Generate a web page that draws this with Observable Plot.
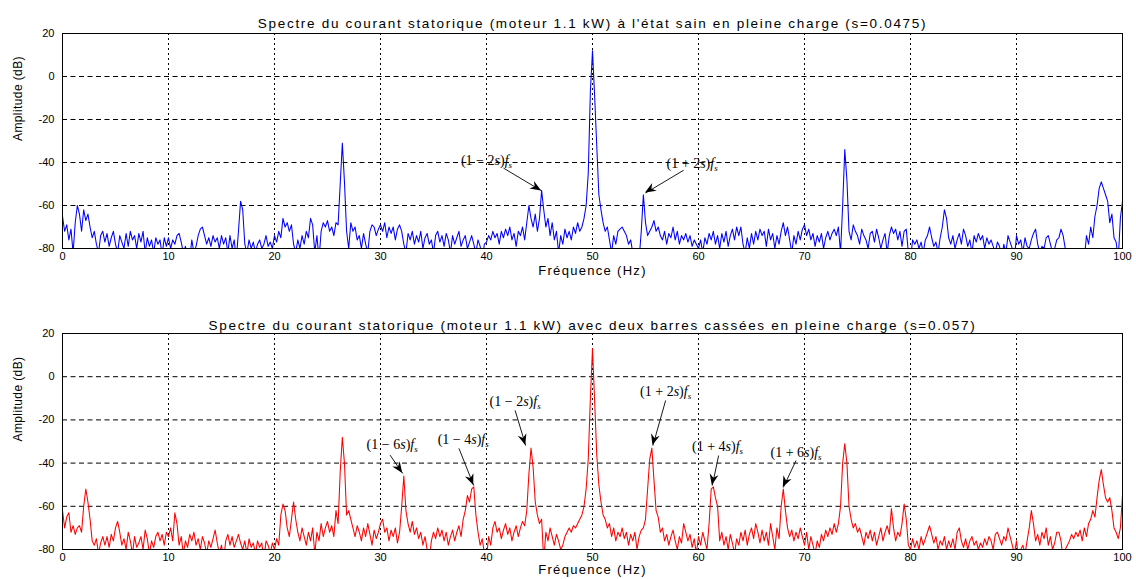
<!DOCTYPE html>
<html>
<head>
<meta charset="utf-8">
<script src="https://cdn.jsdelivr.net/npm/d3@7"></script>
<script src="https://cdn.jsdelivr.net/npm/@observablehq/plot@0.6"></script>
<style>
  html, body { margin: 0; padding: 0; background: #fff; }
  #chart { width: 1136px; height: 579px; overflow: hidden; }
  #chart svg { display: block; }
</style>
</head>
<body>
<div id="chart"></div>
<script>
// ---------- data ----------
const freqStep = 0.2; // Hz between spectrum samples (0 .. 100 Hz)
const xTicks = [0, 10, 20, 30, 40, 50, 60, 70, 80, 90, 100];
const yTicks = [-80, -60, -40, -20, 0, 20];

const titleHealthy = "Spectre du courant statorique (moteur 1.1 kW) à l'état sain en pleine charge (s=0.0475)";
const titleBroken = "Spectre du courant statorique (moteur 1.1 kW) avec deux barres cassées en pleine charge (s=0.057)";
const xLabel = "Fréquence (Hz)";
const yLabel = "Amplitude (dB)";

// Healthy motor spectrum (dB), one row per 10 Hz
const healthy = [
  -65,-72,-69,-76,-71,-82,-68,-60,-64,-72, -62,-67,-64,-70,-75,-72,-78,-82,-74,-72, -77,-73,-79,-75,-72,-78,-82,-74,-77,-80, -73,-79,-72,-76,-74,-80,-73,-77,-72,-82, -75,-79,-76,-82,-75,-78,-76,-83,-75,-79,
  -75,-80,-76,-78,-74,-73,-77,-82,-79,-85, -85,-76,-82,-79,-74,-71,-70,-74,-78,-75, -79,-74,-77,-75,-80,-74,-78,-75,-82,-74, -80,-76,-85,-72,-58,-62,-78,-82,-76,-80, -77,-82,-78,-76,-80,-78,-74,-79,-77,-80,
  -74,-77,-72,-75,-66,-70,-68,-72,-69,-78, -82,-76,-80,-74,-78,-72,-75,-66,-69,-82, -74,-85,-72,-68,-70,-67,-72,-70,-74,-68, -69,-50,-31,-49,-72,-80,-68,-72,-70,-76, -74,-80,-73,-78,-82,-72,-69,-70,-74,-71,
  -69,-72,-68,-75,-70,-73,-70,-76,-71,-69, -72,-78,-82,-73,-76,-72,-78,-74,-77,-72, -80,-75,-73,-78,-76,-82,-74,-72,-77,-74, -79,-73,-76,-82,-74,-78,-75,-72,-79,-76, -74,-80,-77,-74,-78,-82,-76,-79,-85,-78,
  -77,-74,-76,-72,-75,-73,-78,-72,-75,-71, -74,-70,-76,-73,-79,-72,-74,-70,-76,-68, -60,-66,-70,-64,-72,-66,-53,-62,-70,-66, -74,-68,-76,-72,-82,-74,-78,-71,-75,-72, -76,-70,-73,-68,-72,-70,-66,-60,-45,-7,
  12,-9,-32,-55,-62,-68,-72,-70,-76,-82, -74,-78,-72,-71,-70,-72,-74,-78,-76,-82, -85,-80,-85,-72,-55,-68,-74,-72,-70,-67, -72,-70,-74,-76,-72,-78,-73,-75,-70,-76, -72,-78,-74,-76,-73,-77,-74,-79,-76,-78,
  -80,-76,-82,-75,-78,-73,-76,-72,-78,-74, -80,-73,-77,-72,-79,-74,-71,-76,-70,-74, -70,-78,-82,-75,-80,-73,-78,-72,-76,-71, -74,-72,-79,-71,-76,-73,-80,-74,-78,-72, -68,-74,-70,-76,-82,-74,-78,-72,-76,-71,
  -69,-74,-71,-76,-73,-79,-74,-77,-73,-80, -75,-72,-76,-73,-71,-74,-70,-82,-60,-34, -48,-72,-76,-69,-72,-74,-78,-71,-74,-76, -80,-73,-72,-77,-71,-75,-80,-76,-73,-82, -74,-70,-73,-71,-76,-72,-79,-72,-71,-82,
  -85,-76,-78,-76,-80,-77,-82,-76,-74,-70, -75,-79,-77,-82,-75,-70,-62,-66,-75,-78, -74,-80,-76,-73,-78,-71,-74,-79,-76,-82, -74,-77,-73,-76,-74,-80,-75,-78,-76,-79, -82,-77,-79,-85,-78,-82,-74,-77,-80,-85,
  -74,-78,-76,-82,-75,-79,-80,-76,-73,-71, -78,-82,-79,-80,-75,-74,-78,-82,-80,-76, -75,-71,-74,-80,-85,-82,-85,-84,-85,-86, -85,-86,-85,-74,-78,-70,-75,-65,-60,-52, -49,-52,-55,-58,-68,-64,-75,-77,-85,-66,
  -58
];

// Two broken bars spectrum (dB), one row per 10 Hz
const broken = [
  -62,-70,-65,-63,-72,-69,-73,-70,-69,-72, -60,-52,-58,-66,-76,-78,-75,-82,-77,-74, -78,-74,-79,-73,-76,-70,-67,-72,-78,-75, -80,-72,-76,-82,-74,-79,-77,-74,-80,-71, -75,-82,-76,-79,-74,-72,-76,-73,-78,-72,
  -74,-70,-76,-63,-68,-78,-74,-82,-76,-79, -73,-76,-72,-78,-75,-80,-74,-77,-82,-76, -79,-75,-71,-77,-82,-78,-85,-76,-73,-78, -74,-79,-76,-73,-77,-80,-76,-82,-75,-79, -77,-82,-76,-79,-77,-85,-76,-78,-82,-77,
  -80,-75,-78,-64,-59,-62,-70,-74,-66,-58, -66,-72,-76,-70,-74,-78,-72,-76,-70,-82, -72,-76,-68,-74,-70,-67,-72,-69,-74,-62, -68,-44,-28,-40,-64,-62,-66,-70,-74,-69, -72,-76,-70,-74,-68,-73,-78,-71,-75,-72,
  -68,-66,-72,-70,-76,-71,-74,-70,-77,-72, -60,-46,-62,-68,-72,-67,-73,-70,-75,-72, -78,-74,-80,-85,-76,-72,-75,-70,-74,-71, -76,-72,-78,-74,-71,-76,-72,-69,-74,-66, -62,-55,-58,-52,-51,-64,-72,-78,-75,-82,
  -84,-74,-78,-70,-67,-72,-70,-75,-71,-68, -73,-70,-76,-72,-69,-74,-70,-67,-69,-62, -45,-33,-42,-58,-64,-68,-66,-85,-72,-76, -70,-74,-78,-73,-76,-80,-78,-74,-72,-70, -72,-69,-70,-68,-66,-64,-60,-52,-38,-10,
  13,-11,-36,-50,-58,-64,-66,-70,-68,-74, -70,-76,-72,-74,-70,-75,-72,-78,-73,-76, -72,-80,-74,-71,-70,-66,-52,-38,-33,-48, -62,-65,-72,-70,-76,-73,-78,-74,-71,-76, -80,-74,-77,-68,-72,-76,-73,-79,-75,-82,
  -74,-78,-72,-76,-80,-68,-52,-51,-56,-60, -76,-72,-78,-74,-80,-73,-77,-82,-75,-78, -72,-76,-71,-78,-73,-70,-75,-68,-72,-77, -71,-76,-72,-78,-68,-74,-80,-70,-75,-60, -52,-62,-70,-74,-71,-76,-72,-75,-70,-74,
  -78,-72,-80,-74,-78,-82,-76,-79,-73,-76, -71,-74,-70,-73,-68,-72,-68,-60,-40,-31, -40,-60,-66,-70,-68,-72,-70,-74,-78,-72, -75,-71,-76,-72,-78,-74,-70,-76,-72,-69, -73,-61,-70,-76,-72,-74,-68,-59,-66,-78,
  -80,-75,-79,-76,-80,-74,-78,-75,-72,-69, -73,-77,-74,-80,-76,-78,-74,-80,-76,-79, -75,-80,-72,-70,-76,-79,-75,-80,-76,-74, -78,-76,-80,-77,-79,-75,-78,-74,-76,-80, -73,-72,-75,-78,-74,-76,-70,-74,-78,-82,
  -76,-85,-80,-78,-82,-76,-70,-62,-68,-76, -73,-78,-72,-75,-70,-78,-74,-80,-77,-72, -72,-76,-85,-80,-78,-76,-73,-75,-72,-74, -71,-76,-70,-74,-68,-66,-62,-65,-56,-48, -43,-50,-56,-58,-56,-62,-70,-72,-75,-70,
  -55
];

// Annotations: label, text anchor (tx, ty), arrow from (x1, y1) to tip (x2, y2), in data units
const notesHealthy = [
  {label: "(1−2s)f_s", tx: 40.0, ty: -39.1, x1: 41.6, y1: -42.6, x2: 45.2, y2: -53.2},
  {label: "(1+2s)f_s", tx: 59.4, ty: -40.5, x1: 58.6, y1: -43.6, x2: 55.0, y2: -54.2}
];
const notesBroken = [
  {label: "(1−6s)f_s", tx: 31.1, ty: -31.5, x1: 30.9, y1: -36.3, x2: 32.1, y2: -44.8},
  {label: "(1−4s)f_s", tx: 37.8, ty: -29.3, x1: 37.4, y1: -33.2, x2: 38.8, y2: -50.4},
  {label: "(1−2s)f_s", tx: 42.7, ty: -11.5, x1: 42.7, y1: -15.6, x2: 43.7, y2: -31.9},
  {label: "(1+2s)f_s", tx: 56.9, ty: -6.9, x1: 56.9, y1: -11.0, x2: 55.7, y2: -31.9},
  {label: "(1+4s)f_s", tx: 61.8, ty: -32.3, x1: 61.9, y1: -36.5, x2: 61.3, y2: -50.4},
  {label: "(1+6s)f_s", tx: 69.2, ty: -35.0, x1: 69.2, y1: -38.8, x2: 68.0, y2: -51.3}
];

// ---------- drawing ----------
const sans = "'Liberation Sans', Arial, Helvetica, sans-serif";
const serif = "'Liberation Serif', 'Times New Roman', 'DejaVu Serif', serif";

function panel({values, color, title, notes, height, marginTop, marginBottom, titleDy, xLabelDy}) {
  const data = values.map((v, i) => ({f: i * freqStep, a: v}));
  const chart = Plot.plot({
    width: 1136,
    height,
    marginLeft: 62,
    marginRight: 14,
    marginTop,
    marginBottom,
    style: {fontFamily: sans, fontSize: "11px", color: "#000", background: "#fff", overflow: "visible"},
    x: {domain: [0, 100], label: null},
    y: {domain: [-80, 20], label: null},
    marks: [
      Plot.gridX(xTicks, {stroke: "#000", strokeOpacity: 1, strokeDasharray: "2,3"}),
      Plot.gridY(yTicks, {stroke: "#000", strokeOpacity: 1, strokeDasharray: "5,3.5"}),
      Plot.line(data, {x: "f", y: "a", stroke: color, strokeWidth: 1.05, clip: true}),
      Plot.frame({stroke: "#000", strokeWidth: 1}),
      Plot.axisX({ticks: xTicks, tickSize: 0, tickPadding: 4, tickFormat: d => String(d), fontSize: 11, label: null}),
      Plot.axisY({ticks: yTicks, tickSize: 0, tickPadding: 8, tickFormat: d => String(d), fontSize: 11, label: null}),
      Plot.link(notes, {x1: "x1", y1: "y1", x2: "x2", y2: "y2", stroke: "#000", strokeWidth: 0.9}),
      Plot.text(notes, {x: "tx", y: "ty", text: "label", fontFamily: serif, fontSize: 14, fill: "#000"}),
      Plot.text([title], {text: d => d, frameAnchor: "top", dy: titleDy, fontSize: 13.5, fill: "#000"}),
      Plot.text([xLabel], {text: d => d, frameAnchor: "bottom", dy: xLabelDy, fontSize: 13, fill: "#000"}),
      Plot.text([yLabel], {text: d => d, frameAnchor: "left", dx: -44, rotate: -90, fontSize: 12, fill: "#000"})
    ]
  });

  const svg = d3.select(chart);
  // letter spacing for MATLAB-like wide text
  svg.selectAll("text").each(function () {
    const t = this.textContent;
    if (t === title) d3.select(this).attr("letter-spacing", "1.7");
    else if (t === xLabel) d3.select(this).attr("letter-spacing", "1.3");
    else if (t === yLabel) d3.select(this).attr("letter-spacing", "0.4");
  });
  // rich text for the annotation formulas
  svg.selectAll("text").each(function () {
    const m = /^\(1([−+])(\d)s\)f_s$/.exec(this.textContent);
    if (!m) return;
    const el = d3.select(this).text("");
    el.append("tspan").text("(1 " + m[1] + " " + m[2]);
    el.append("tspan").attr("font-style", "italic").text("s");
    el.append("tspan").text(")");
    el.append("tspan").attr("font-style", "italic").text("f");
    el.append("tspan").attr("font-style", "italic").attr("font-size", 9).attr("dy", 3).text("s");
  });
  // filled arrow heads, placed through the chart's own scales
  const sx = chart.scale("x"), sy = chart.scale("y");
  const g = svg.append("g").attr("fill", "#000");
  for (const n of notes) {
    const ax = sx.apply(n.x1), ay = sy.apply(n.y1), bx = sx.apply(n.x2), by = sy.apply(n.y2);
    const ang = Math.atan2(by - ay, bx - ax);
    const ux = Math.cos(ang), uy = Math.sin(ang), px = -uy, py = ux;
    const L = 11, W = 4.5, N = 7.5;
    const cx = bx - L * ux, cy = by - L * uy;
    const pts = [[bx, by], [cx + W * px, cy + W * py], [bx - N * ux, by - N * uy], [cx - W * px, cy - W * py]];
    g.append("polygon").attr("points", pts.map(p => p.join(",")).join(" "));
  }
  return chart;
}

const root = document.getElementById("chart");
root.appendChild(panel({
  values: healthy, color: "#0000ff", title: titleHealthy, notes: notesHealthy,
  height: 290, marginTop: 33, marginBottom: 42, titleDy: -15, xLabelDy: 26
}));
root.appendChild(panel({
  values: broken, color: "#ff0000", title: titleBroken, notes: notesBroken,
  height: 289, marginTop: 43, marginBottom: 30, titleDy: -13, xLabelDy: 24
}));
</script>
</body>
</html>
